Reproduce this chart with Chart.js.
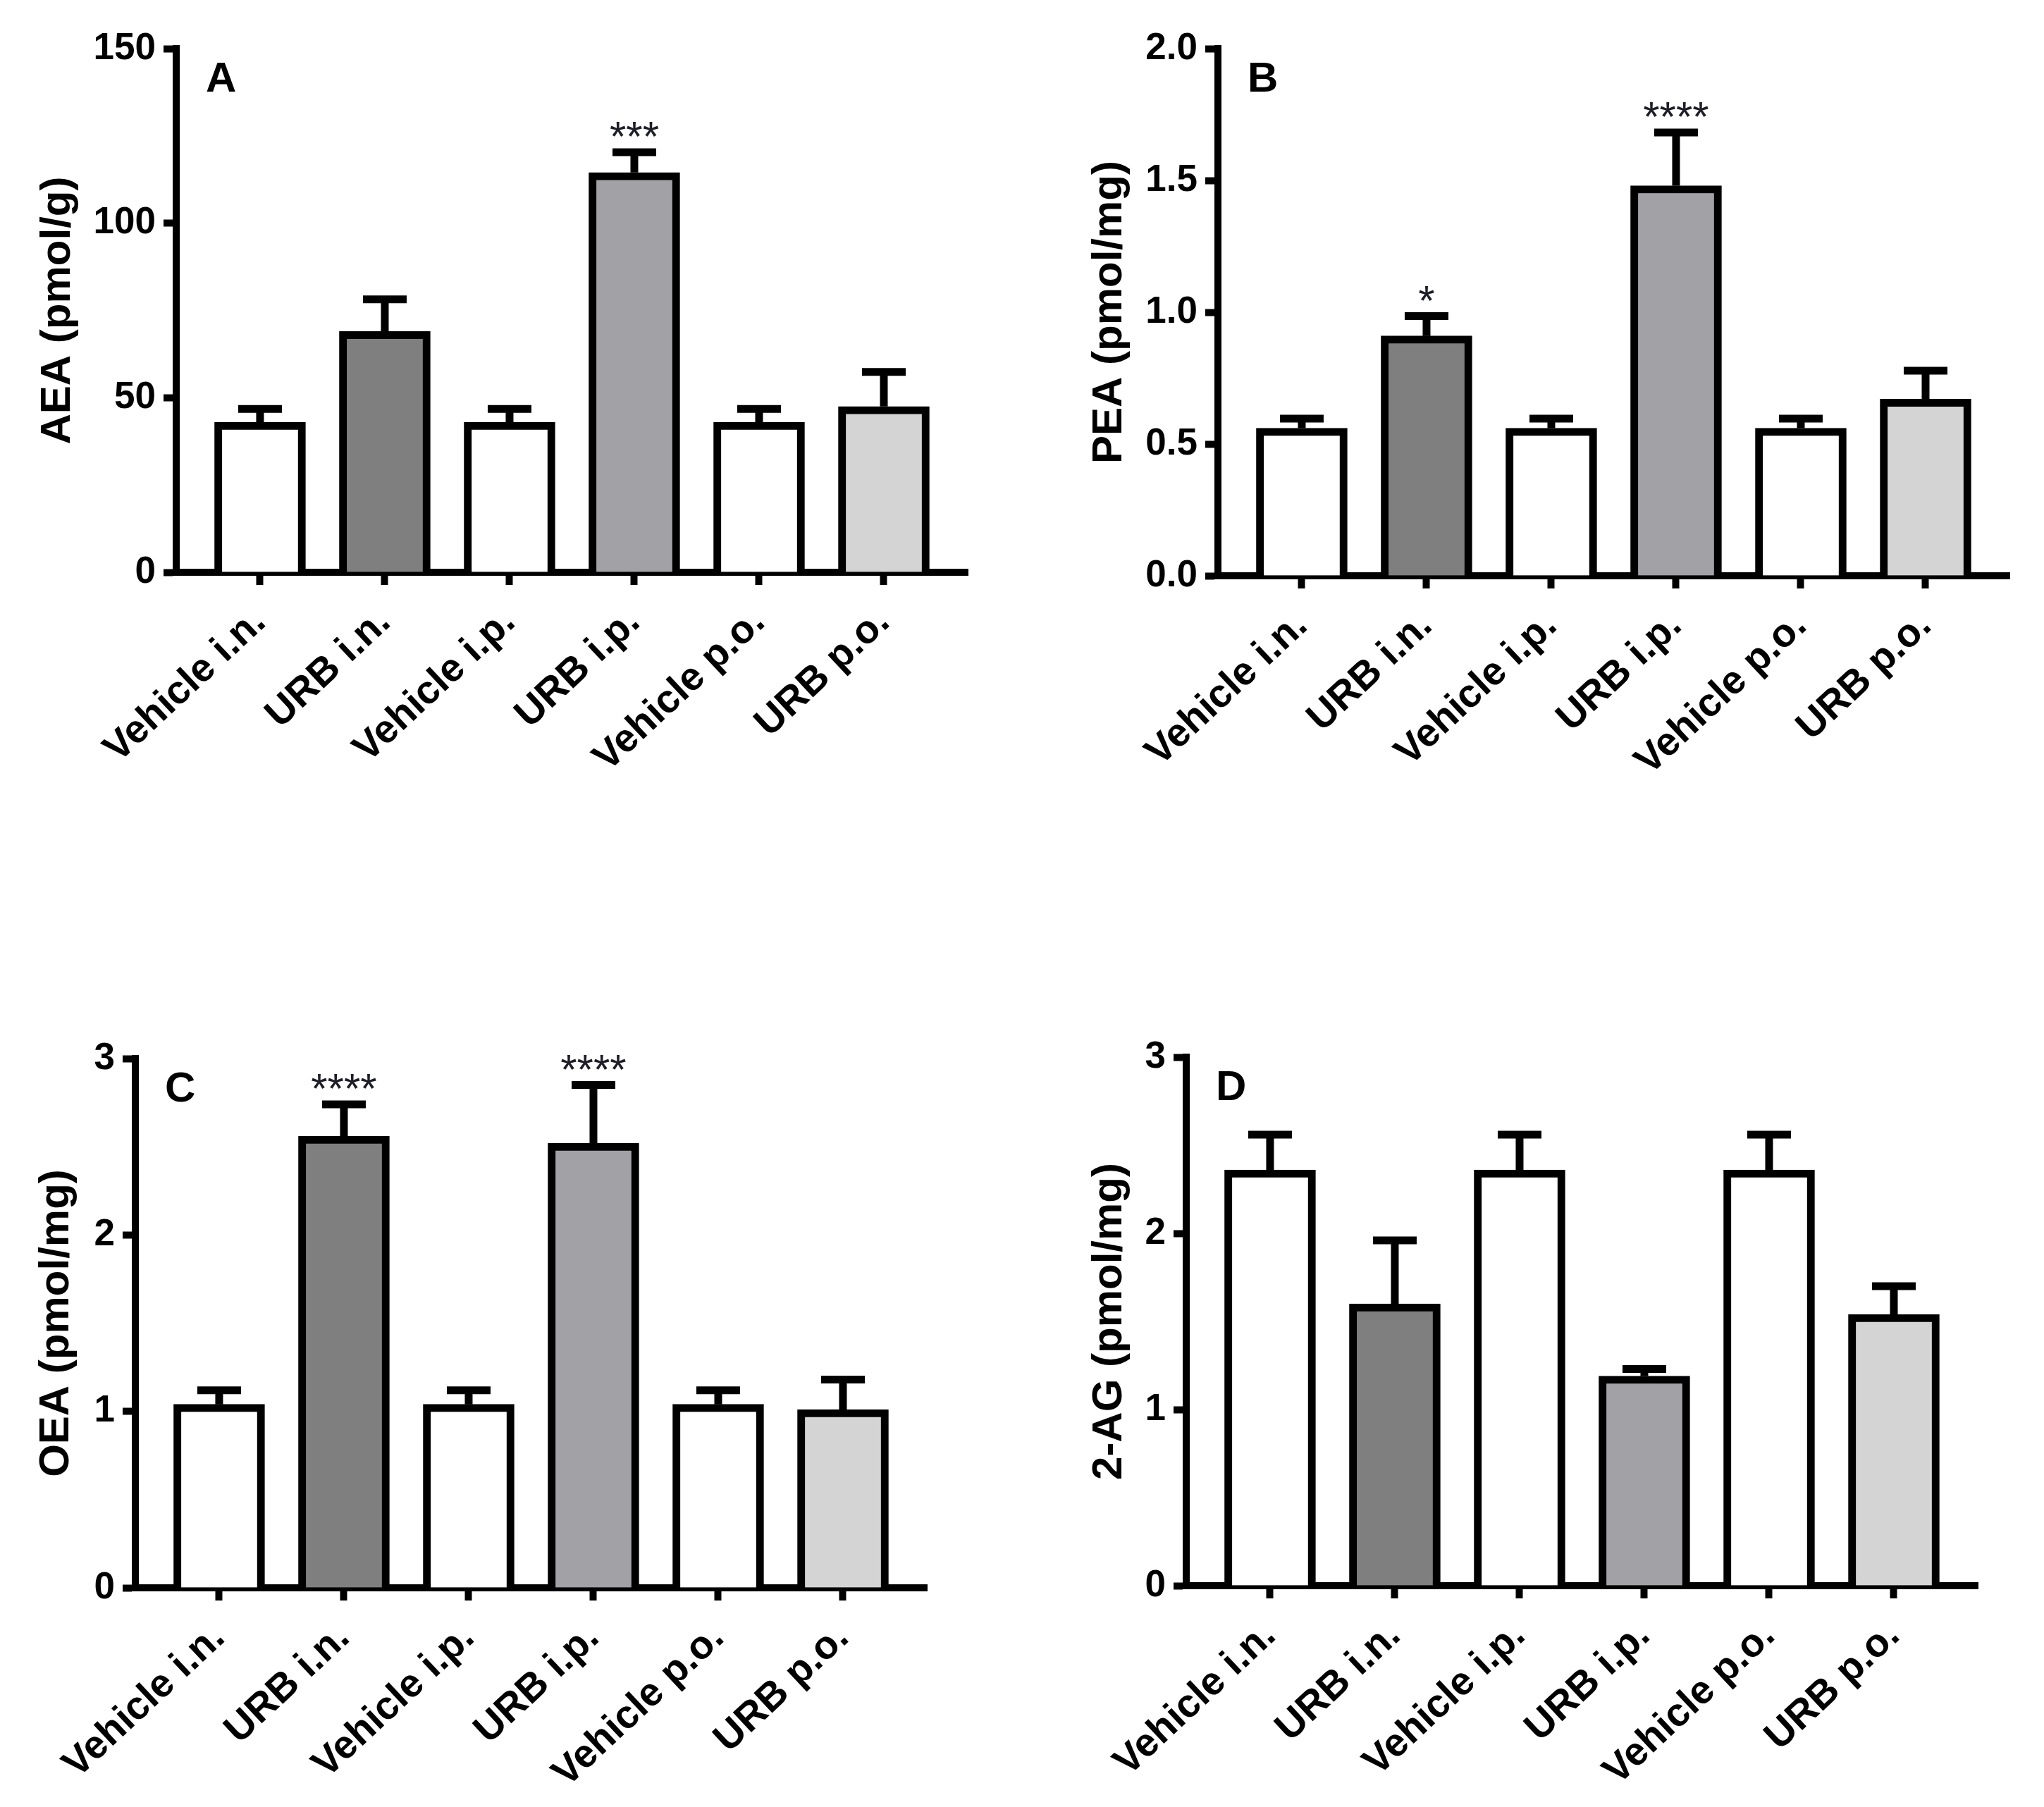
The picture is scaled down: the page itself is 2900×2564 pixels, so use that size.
<!DOCTYPE html>
<html>
<head>
<meta charset="utf-8">
<script src="https://cdn.jsdelivr.net/npm/chart.js@4.4.1/dist/chart.umd.min.js"></script>
<style>
  html, body { margin: 0; padding: 0; background: #fff; }
  body { width: 2900px; height: 2564px; position: relative; overflow: hidden; }
  canvas { position: absolute; }
</style>
</head>
<body>
<canvas id="chartA" width="1374" height="1112" style="left:0px;top:0px"></canvas>
<canvas id="chartB" width="1402" height="1117" style="left:1450px;top:0px"></canvas>
<canvas id="chartC" width="1316" height="1273" style="left:0px;top:1280px"></canvas>
<canvas id="chartD" width="1357" height="1270" style="left:1450px;top:1280px"></canvas>
<script>
// groups on the x axis (same for every panel)
const groups = ['Vehicle i.n.', 'URB i.n.', 'Vehicle i.p.', 'URB i.p.', 'Vehicle p.o.', 'URB p.o.'];

// A - AEA (pmol/g)
const aeaMean = [43, 69, 43, 114.5, 43, 47.5];
const aeaSem = [3.8, 9.2, 3.8, 5.8, 3.8, 9.9];
const aeaStars = ['', '', '', '***', '', ''];
const aeaTicks = [0, 50, 100, 150];

// B - PEA (pmol/mg)
const peaMean = [0.56, 0.91, 0.56, 1.48, 0.56, 0.67];
const peaSem = [0.036, 0.075, 0.036, 0.202, 0.036, 0.108];
const peaStars = ['', '*', '', '****', '', ''];
const peaTicks = [0, 0.5, 1.0, 1.5, 2.0];

// C - OEA (pmol/mg)
const oeaMean = [1.04, 2.56, 1.04, 2.52, 1.04, 1.01];
const oeaSem = [0.08, 0.18, 0.08, 0.33, 0.08, 0.17];
const oeaStars = ['', '****', '', '****', '', ''];
const oeaTicks = [0, 1, 2, 3];

// D - 2-AG (pmol/mg)
const agMean = [2.36, 1.60, 2.36, 1.19, 2.36, 1.54];
const agSem = [0.20, 0.36, 0.20, 0.04, 0.20, 0.16];
const agStars = ['', '', '', '', '', ''];
const agTicks = [0, 1, 2, 3];

const barFills = ['#ffffff', '#7f7f7f', '#ffffff', '#a2a1a6', '#ffffff', '#d4d4d4'];

Chart.defaults.font.family = '"Liberation Sans", Arial, sans-serif';
Chart.defaults.color = '#000';

// error bars (mean + SEM), significance stars and the panel letter
const semPlugin = {
    id: 'semBars',
    afterDatasetsDraw(chart, args, opts) {
        const {ctx, chartArea} = chart;
        const xs = chart.scales.x;
        const ys = chart.scales.y;
        const pts = chart.data.datasets[0].data;
        ctx.save();
        ctx.strokeStyle = '#000';
        ctx.lineWidth = 11;
        pts.forEach((p, i) => {
            const px = xs.getPixelForValue(p.x);
            const yTop = ys.getPixelForValue(p.y);
            const yErr = ys.getPixelForValue(p.y + opts.sem[i]);
            ctx.beginPath();
            ctx.moveTo(px, yTop);
            ctx.lineTo(px, yErr);
            ctx.moveTo(px - 31, yErr);
            ctx.lineTo(px + 31, yErr);
            ctx.stroke();
            if (opts.stars[i]) {
                ctx.fillStyle = '#1e1e28';
                ctx.font = '60px "Liberation Sans", Arial, sans-serif';
                ctx.textAlign = 'center';
                ctx.textBaseline = 'alphabetic';
                ctx.fillText(opts.stars[i], px, yErr - 2);
            }
        });
        ctx.fillStyle = '#000';
        ctx.font = 'bold 60px "Liberation Sans", Arial, sans-serif';
        ctx.textAlign = 'left';
        ctx.textBaseline = 'alphabetic';
        ctx.fillText(opts.letter, chartArea.left + 42, chartArea.top + 61);
        ctx.restore();
    }
};

const makePanel = (id, mean, sem, stars, yTicks, cfg) => {
    return new Chart(document.getElementById(id), {
        type: 'bar',
        data: {
            datasets: [{
                data: mean.map((v, i) => ({x: i, y: v})),
                backgroundColor: barFills,
                borderColor: '#000',
                borderWidth: 11,
                barThickness: 129,
            }]
        },
        options: {
            responsive: false,
            devicePixelRatio: 1,
            animation: false,
            layout: {
                padding: {top: cfg.padTop, left: 0, right: 0, bottom: 0}
            },
            plugins: {
                legend: {display: false},
                tooltip: {enabled: false},
                semBars: {sem: sem, stars: stars, letter: cfg.letter}
            },
            scales: {
                x: {
                    type: 'linear',
                    min: -0.672,
                    max: 5.678,
                    offset: false,
                    afterBuildTicks: (s) => { s.ticks = groups.map((g, i) => ({value: i})); },
                    afterFit: (s) => { s.height = 300; },
                    border: {display: true, color: '#000', width: 10},
                    grid: {
                        display: true,
                        offset: false,
                        drawOnChartArea: false,
                        drawTicks: true,
                        tickLength: 18,
                        tickWidth: 10,
                        tickColor: '#000'
                    },
                    ticks: {
                        autoSkip: false,
                        minRotation: 43,
                        maxRotation: 43,
                        padding: 20,
                        color: '#000',
                        font: {size: 56, weight: 'bold'},
                        callback: (v) => groups[v]
                    }
                },
                y: {
                    min: 0,
                    max: yTicks[yTicks.length - 1],
                    afterBuildTicks: (s) => { s.ticks = yTicks.map(v => ({value: v})); },
                    afterFit: (s) => { s.width = cfg.yWidth; },
                    border: {display: true, color: '#000', width: 10},
                    grid: {
                        display: true,
                        drawOnChartArea: false,
                        drawTicks: true,
                        tickLength: 18,
                        tickWidth: 10,
                        tickColor: '#000'
                    },
                    ticks: {
                        padding: 11,
                        color: '#000',
                        font: {size: 53, weight: 'bold'},
                        callback: (v) => v.toFixed(cfg.dec)
                    },
                    title: {
                        display: true,
                        text: cfg.title,
                        color: '#000',
                        font: {size: 60, weight: 'bold'},
                        padding: {top: cfg.titlePad, bottom: 0}
                    }
                }
            }
        },
        plugins: [semPlugin]
    });
};

makePanel('chartA', aeaMean, aeaSem, aeaStars, aeaTicks,
    {letter: 'A', title: 'AEA (pmol/g)', dec: 0, yWidth: 250, padTop: 69, titlePad: 46});
makePanel('chartB', peaMean, peaSem, peaStars, peaTicks,
    {letter: 'B', title: 'PEA (pmol/mg)', dec: 1, yWidth: 278, padTop: 69, titlePad: 88});
makePanel('chartC', oeaMean, oeaSem, oeaStars, oeaTicks,
    {letter: 'C', title: 'OEA (pmol/mg)', dec: 0, yWidth: 192, padTop: 222, titlePad: 44});
makePanel('chartD', agMean, agSem, agStars, agTicks,
    {letter: 'D', title: '2-AG (pmol/mg)', dec: 0, yWidth: 233, padTop: 220, titlePad: 88});
</script>
</body>
</html>
